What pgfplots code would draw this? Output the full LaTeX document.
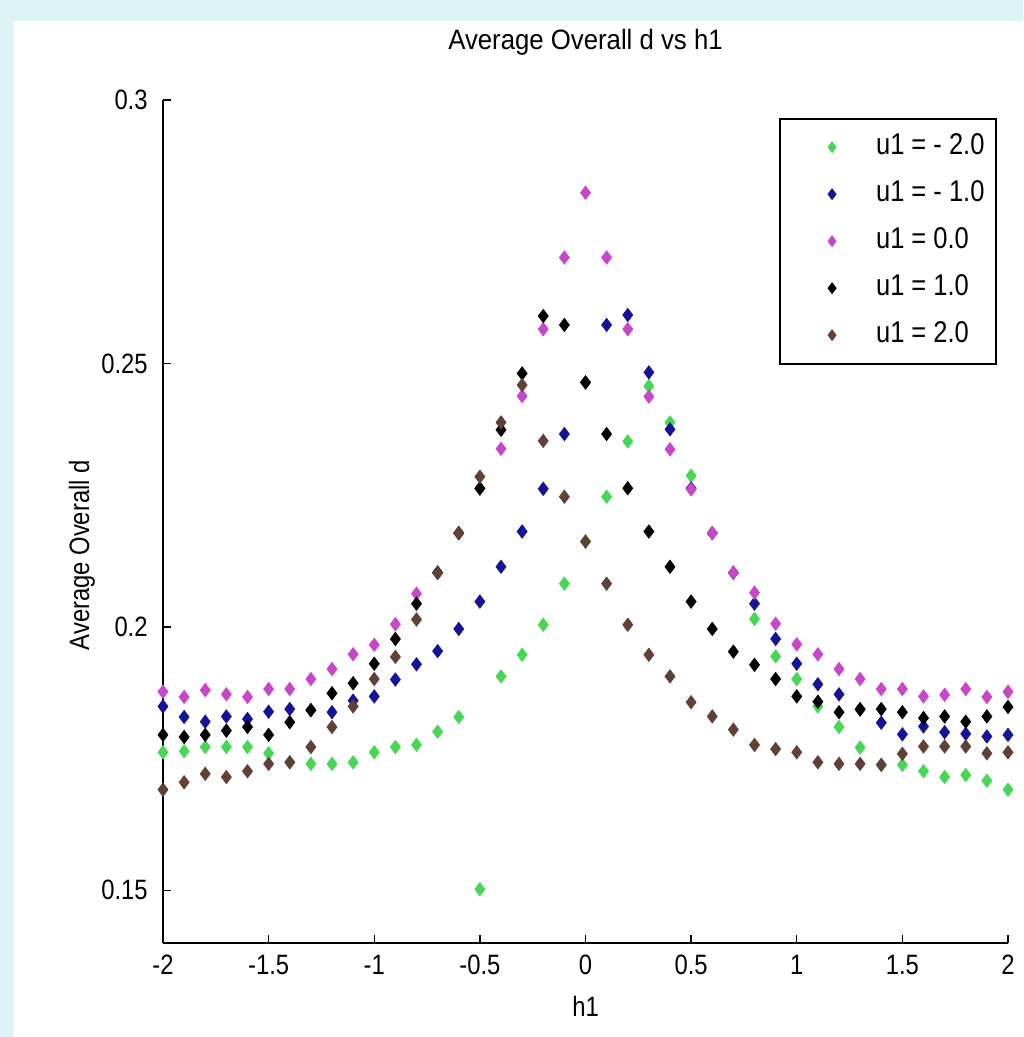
\documentclass[border=0pt]{standalone}
\usepackage{fontspec}
\setmainfont{Liberation Sans}[FakeStretch=0.85]
\newfontfamily\titlefont{Liberation Sans}[FakeStretch=0.92]
\usepackage{pgfplots}
\pgfplotsset{compat=1.18}
\usepackage{pgfplotstable}
\definecolor{bgcyan}{RGB}{220,244,248}
\definecolor{ugreen}{RGB}{70,215,85}
\definecolor{ublue}{RGB}{20,20,150}
\definecolor{umag}{RGB}{200,70,200}
\definecolor{ubrown}{RGB}{95,65,55}
\newcommand\mfont{\fontsize{14}{16}\selectfont}
\newcommand\lfont{\fontsize{15}{17}\selectfont}

% h1 and average overall d, one table per u1
\pgfplotstableread{
h d
-2.0 0.1762
-1.9 0.1764
-1.8 0.1772
-1.7 0.1772
-1.6 0.1772
-1.5 0.1760
-1.4 0.1743
-1.3 0.1740
-1.2 0.1740
-1.1 0.1743
-1.0 0.1762
-0.9 0.1772
-0.8 0.1776
-0.7 0.1801
-0.6 0.1829
-0.5 0.1502
-0.4 0.1906
-0.3 0.1947
-0.2 0.2004
-0.1 0.2082
0.0 0.2162
0.1 0.2247
0.2 0.2352
0.3 0.2457
0.4 0.2388
0.5 0.2287
0.6 0.2178
0.7 0.2102
0.8 0.2015
0.9 0.1944
1.0 0.1901
1.1 0.1849
1.2 0.1810
1.3 0.1771
1.4 0.1738
1.5 0.1738
1.6 0.1726
1.7 0.1715
1.8 0.1719
1.9 0.1708
2.0 0.1691
}\ugreen
\pgfplotstableread{
h d
-2.0 0.1849
-1.9 0.1829
-1.8 0.1820
-1.7 0.1830
-1.6 0.1825
-1.5 0.1839
-1.4 0.1844
-1.3 0.1842
-1.2 0.1838
-1.1 0.1860
-1.0 0.1868
-0.9 0.1900
-0.8 0.1929
-0.7 0.1954
-0.6 0.1996
-0.5 0.2048
-0.4 0.2114
-0.3 0.2181
-0.2 0.2262
-0.1 0.2366
0.0 0.2464
0.1 0.2573
0.2 0.2592
0.3 0.2483
0.4 0.2375
0.5 0.2263
0.6 0.2178
0.7 0.2103
0.8 0.2044
0.9 0.1977
1.0 0.1930
1.1 0.1891
1.2 0.1872
1.3 0.1843
1.4 0.1818
1.5 0.1796
1.6 0.1811
1.7 0.1800
1.8 0.1797
1.9 0.1792
2.0 0.1795
}\ublue
\pgfplotstableread{
h d
-2.0 0.1877
-1.9 0.1867
-1.8 0.1880
-1.7 0.1872
-1.6 0.1867
-1.5 0.1882
-1.4 0.1882
-1.3 0.1901
-1.2 0.1920
-1.1 0.1948
-1.0 0.1966
-0.9 0.2005
-0.8 0.2063
-0.7 0.2103
-0.6 0.2178
-0.5 0.2262
-0.4 0.2338
-0.3 0.2438
-0.2 0.2565
-0.1 0.2701
0.0 0.2824
0.1 0.2701
0.2 0.2565
0.3 0.2437
0.4 0.2337
0.5 0.2261
0.6 0.2178
0.7 0.2103
0.8 0.2065
0.9 0.2006
1.0 0.1967
1.1 0.1948
1.2 0.1920
1.3 0.1901
1.4 0.1882
1.5 0.1882
1.6 0.1868
1.7 0.1871
1.8 0.1882
1.9 0.1867
2.0 0.1877
}\umag
\pgfplotstableread{
h d
-2.0 0.1795
-1.9 0.1791
-1.8 0.1795
-1.7 0.1803
-1.6 0.1810
-1.5 0.1795
-1.4 0.1819
-1.3 0.1842
-1.2 0.1874
-1.1 0.1893
-1.0 0.1930
-0.9 0.1977
-0.8 0.2044
-0.7 0.2103
-0.6 0.2178
-0.5 0.2263
-0.4 0.2374
-0.3 0.2481
-0.2 0.2590
-0.1 0.2573
0.0 0.2464
0.1 0.2366
0.2 0.2263
0.3 0.2181
0.4 0.2114
0.5 0.2048
0.6 0.1996
0.7 0.1953
0.8 0.1928
0.9 0.1901
1.0 0.1868
1.1 0.1858
1.2 0.1838
1.3 0.1844
1.4 0.1844
1.5 0.1838
1.6 0.1827
1.7 0.1830
1.8 0.1820
1.9 0.1830
2.0 0.1848
}\ublack
\pgfplotstableread{
h d
-2.0 0.1691
-1.9 0.1705
-1.8 0.1721
-1.7 0.1715
-1.6 0.1726
-1.5 0.1740
-1.4 0.1743
-1.3 0.1772
-1.2 0.1810
-1.1 0.1849
-1.0 0.1901
-0.9 0.1943
-0.8 0.2014
-0.7 0.2102
-0.6 0.2178
-0.5 0.2285
-0.4 0.2388
-0.3 0.2459
-0.2 0.2353
-0.1 0.2247
0.0 0.2162
0.1 0.2082
0.2 0.2004
0.3 0.1947
0.4 0.1906
0.5 0.1857
0.6 0.1830
0.7 0.1805
0.8 0.1776
0.9 0.1768
1.0 0.1762
1.1 0.1743
1.2 0.1740
1.3 0.1740
1.4 0.1738
1.5 0.1759
1.6 0.1773
1.7 0.1773
1.8 0.1773
1.9 0.1760
2.0 0.1762
}\ubrown

\begin{document}
\begin{tikzpicture}
\fill[bgcyan] (0,0) rectangle (511.5pt,518.5pt);
\fill[white] (7pt,0) rectangle (511.5pt,508pt);
\begin{axis}[
  at={(81.5pt,47pt)}, anchor=south west,
  scale only axis, width=422.5pt, height=421.5pt,
  xmin=-2, xmax=2, ymin=0.14, ymax=0.3,
  xtick={-2,-1.5,...,2}, ytick={0.15,0.2,0.25,0.3},
  axis lines*=left, axis line style={-, line width=0.8pt},
  tick align=inside, major tick length=4pt,
  tick style={line width=0.7pt, black},
  /pgf/number format/assume math mode=true,
  ticklabel style={font=\mfont},
  yticklabel style={inner xsep=7.5pt},
  xticklabel style={inner ysep=6pt},
  title={\titlefont\mfont Average Overall d vs h1},
  title style={at={(axis description cs:0.5,1)}, anchor=base, yshift=19pt},
  xlabel={h1},
  xlabel style={font=\mfont, at={(axis description cs:0.5,0)}, anchor=base, yshift=-36.5pt},
  ylabel={Average Overall d},
  ylabel style={font=\mfont, at={(axis description cs:0,0.46)}, anchor=center, yshift=40.5pt},
  clip=false,
  every axis plot/.append style={only marks, mark=diamond*, mark size=3.3pt},
  legend style={at={(axis description cs:0.987,0.979)}, anchor=north east,
    draw=black, line width=1pt, fill=white, inner xsep=2.75pt, inner ysep=7.5pt,
    row sep=10pt, font=\lfont,
    nodes={text height=10.5pt, text depth=3pt, inner ysep=0pt, inner xsep=3pt}},
  legend cell align=left,
  legend image code/.code={\path[draw=none, fill=none] (0pt,0pt) -- (42.25pt,0pt);
    \draw[#1, only marks, mark size=2.2pt] plot coordinates {(23.25pt,0pt)};},
]
\addplot[ugreen, mark options={draw=ugreen, fill=ugreen}] table[x=h, y=d] {\ugreen};
\addlegendentry{u1 = - 2.0}
\addplot[ublue, mark options={draw=ublue, fill=ublue}] table[x=h, y=d] {\ublue};
\addlegendentry{u1 = - 1.0}
\addplot[umag, mark options={draw=umag, fill=umag}] table[x=h, y=d] {\umag};
\addlegendentry{u1 = 0.0}
\addplot[black, mark options={draw=black, fill=black}] table[x=h, y=d] {\ublack};
\addlegendentry{u1 = 1.0}
\addplot[ubrown, mark options={draw=ubrown, fill=ubrown}] table[x=h, y=d] {\ubrown};
\addlegendentry{u1 = 2.0}
\end{axis}
\end{tikzpicture}
\end{document}
